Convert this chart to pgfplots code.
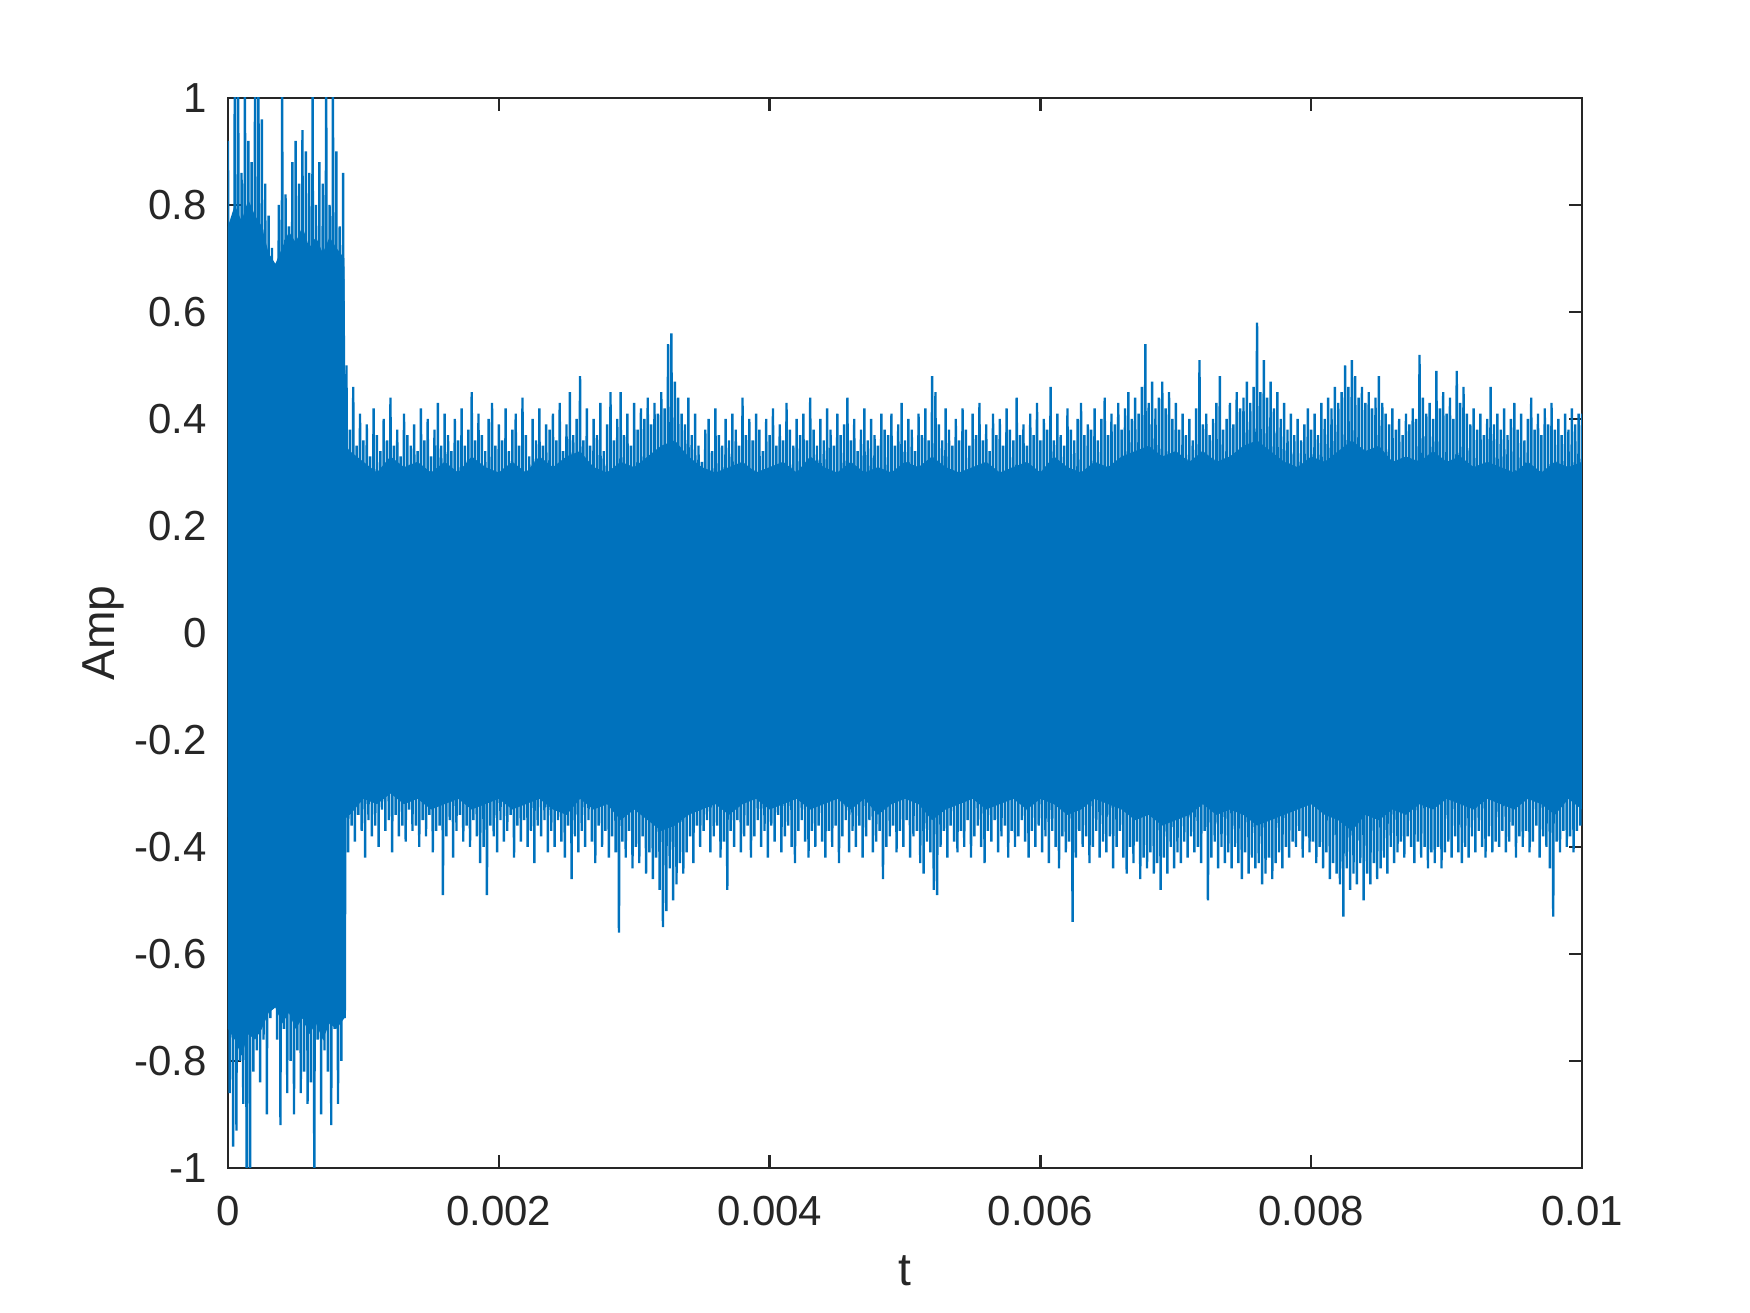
\documentclass[border=0pt]{standalone}
\usepackage{pgfplots}
\pgfplotsset{compat=1.18}
\usepackage{pgfplotstable}
\usepackage{fontspec}
\setmainfont{Liberation Sans}
\definecolor{mblue}{HTML}{0072BD}
\definecolor{axgray}{HTML}{262626}

\pgfplotstableread[row sep=\\]{
y\\
0.92\\ -0.86\\ 0.74\\ -0.96\\ 1.05\\ -0.93\\ 1.1\\ -0.80\\ 0.86\\ -0.88\\
1.1\\ -1.1\\ 0.92\\ -1.1\\ 0.88\\ -0.82\\ 1.1\\ -0.78\\ 1.05\\ -0.84\\
0.96\\ -0.76\\ 0.84\\ -0.90\\ 0.78\\ -0.72\\ 0.72\\ -0.70\\ 0.66\\ -0.76\\
0.80\\ -0.92\\ 1.05\\ -0.74\\ 0.82\\ -0.86\\ 0.76\\ -0.80\\ 0.88\\ -0.90\\
0.92\\ -0.78\\ 0.84\\ -0.86\\ 0.94\\ -0.82\\ 0.90\\ -0.88\\ 0.86\\ -0.84\\
1.05\\ -1.08\\ 0.80\\ -0.76\\ 0.88\\ -0.90\\ 0.84\\ -0.78\\ 1.1\\ -0.82\\
0.80\\ -0.92\\ 1.05\\ -0.74\\ 0.90\\ -0.88\\ 0.76\\ -0.80\\ 0.86\\ -0.72\\
0.50\\ -0.41\\ 0.38\\ -0.36\\ 0.46\\ -0.39\\ 0.35\\ -0.34\\ 0.41\\ -0.37\\ 0.36\\ -0.42\\ 0.39\\ -0.35\\ 0.33\\ -0.38\\ 0.42\\ -0.36\\ 0.37\\ -0.40\\
0.34\\ -0.33\\ 0.40\\ -0.37\\ 0.36\\ -0.35\\ 0.44\\ -0.41\\ 0.35\\ -0.34\\ 0.38\\ -0.38\\ 0.33\\ -0.36\\ 0.41\\ -0.39\\ 0.37\\ -0.33\\ 0.35\\ -0.37\\
0.39\\ -0.36\\ 0.34\\ -0.40\\ 0.42\\ -0.35\\ 0.36\\ -0.38\\ 0.40\\ -0.34\\ 0.33\\ -0.41\\ 0.38\\ -0.37\\ 0.43\\ -0.36\\ 0.35\\ -0.49\\ 0.41\\ -0.38\\
0.37\\ -0.35\\ 0.34\\ -0.42\\ 0.40\\ -0.37\\ 0.36\\ -0.34\\ 0.42\\ -0.39\\ 0.35\\ -0.36\\ 0.38\\ -0.40\\ 0.45\\ -0.35\\ 0.36\\ -0.38\\ 0.41\\ -0.43\\
0.37\\ -0.40\\ 0.34\\ -0.49\\ 0.40\\ -0.36\\ 0.43\\ -0.38\\ 0.35\\ -0.41\\ 0.39\\ -0.35\\ 0.36\\ -0.39\\ 0.42\\ -0.37\\ 0.34\\ -0.34\\ 0.38\\ -0.42\\
0.41\\ -0.36\\ 0.35\\ -0.39\\ 0.44\\ -0.35\\ 0.37\\ -0.40\\ 0.33\\ -0.37\\ 0.40\\ -0.43\\ 0.36\\ -0.36\\ 0.42\\ -0.38\\ 0.35\\ -0.35\\ 0.39\\ -0.41\\
0.38\\ -0.37\\ 0.41\\ -0.40\\ 0.36\\ -0.35\\ 0.43\\ -0.39\\ 0.34\\ -0.42\\ 0.39\\ -0.36\\ 0.45\\ -0.46\\ 0.37\\ -0.38\\ 0.40\\ -0.41\\ 0.48\\ -0.37\\
0.36\\ -0.40\\ 0.42\\ -0.35\\ 0.35\\ -0.39\\ 0.40\\ -0.43\\ 0.37\\ -0.36\\ 0.43\\ -0.40\\ 0.34\\ -0.37\\ 0.39\\ -0.42\\ 0.45\\ -0.38\\ 0.36\\ -0.41\\
0.40\\ -0.56\\ 0.45\\ -0.39\\ 0.37\\ -0.42\\ 0.41\\ -0.37\\ 0.35\\ -0.44\\ 0.43\\ -0.40\\ 0.38\\ -0.43\\ 0.42\\ -0.38\\ 0.40\\ -0.45\\ 0.44\\ -0.41\\
0.39\\ -0.46\\ 0.43\\ -0.42\\ 0.41\\ -0.48\\ 0.45\\ -0.55\\ 0.42\\ -0.52\\ 0.54\\ -0.44\\ 0.56\\ -0.50\\ 0.47\\ -0.47\\ 0.44\\ -0.43\\ 0.41\\ -0.45\\
0.39\\ -0.41\\ 0.44\\ -0.38\\ 0.37\\ -0.43\\ 0.41\\ -0.36\\ 0.35\\ -0.40\\ 0.32\\ -0.37\\ 0.38\\ -0.35\\ 0.40\\ -0.41\\ 0.34\\ -0.38\\ 0.42\\ -0.36\\
0.37\\ -0.42\\ 0.35\\ -0.39\\ 0.40\\ -0.48\\ 0.36\\ -0.37\\ 0.41\\ -0.40\\ 0.38\\ -0.35\\ 0.35\\ -0.41\\ 0.44\\ -0.38\\ 0.37\\ -0.36\\ 0.40\\ -0.42\\
0.36\\ -0.38\\ 0.41\\ -0.35\\ 0.38\\ -0.40\\ 0.34\\ -0.37\\ 0.40\\ -0.42\\ 0.37\\ -0.36\\ 0.42\\ -0.39\\ 0.35\\ -0.34\\ 0.39\\ -0.41\\ 0.36\\ -0.38\\
0.43\\ -0.36\\ 0.38\\ -0.40\\ 0.35\\ -0.43\\ 0.40\\ -0.37\\ 0.37\\ -0.35\\ 0.41\\ -0.39\\ 0.36\\ -0.42\\ 0.44\\ -0.37\\ 0.38\\ -0.40\\ 0.35\\ -0.36\\
0.40\\ -0.39\\ 0.36\\ -0.42\\ 0.42\\ -0.37\\ 0.38\\ -0.40\\ 0.35\\ -0.36\\ 0.41\\ -0.43\\ 0.37\\ -0.38\\ 0.39\\ -0.35\\ 0.44\\ -0.41\\ 0.36\\ -0.37\\
0.40\\ -0.40\\ 0.34\\ -0.36\\ 0.38\\ -0.42\\ 0.42\\ -0.38\\ 0.36\\ -0.35\\ 0.40\\ -0.41\\ 0.37\\ -0.39\\ 0.35\\ -0.37\\ 0.41\\ -0.46\\ 0.38\\ -0.40\\
0.37\\ -0.38\\ 0.41\\ -0.36\\ 0.35\\ -0.41\\ 0.39\\ -0.37\\ 0.43\\ -0.40\\ 0.36\\ -0.35\\ 0.40\\ -0.42\\ 0.38\\ -0.38\\ 0.34\\ -0.37\\ 0.41\\ -0.43\\
0.37\\ -0.45\\ 0.42\\ -0.39\\ 0.36\\ -0.41\\ 0.48\\ -0.48\\ 0.45\\ -0.49\\ 0.39\\ -0.40\\ 0.36\\ -0.37\\ 0.42\\ -0.42\\ 0.38\\ -0.36\\ 0.35\\ -0.39\\
0.40\\ -0.41\\ 0.36\\ -0.37\\ 0.42\\ -0.40\\ 0.38\\ -0.35\\ 0.35\\ -0.42\\ 0.41\\ -0.38\\ 0.37\\ -0.36\\ 0.43\\ -0.40\\ 0.36\\ -0.43\\ 0.39\\ -0.37\\
0.34\\ -0.39\\ 0.41\\ -0.35\\ 0.37\\ -0.41\\ 0.40\\ -0.38\\ 0.35\\ -0.36\\ 0.42\\ -0.42\\ 0.38\\ -0.37\\ 0.36\\ -0.40\\ 0.44\\ -0.38\\ 0.37\\ -0.35\\
0.39\\ -0.39\\ 0.35\\ -0.42\\ 0.41\\ -0.37\\ 0.37\\ -0.40\\ 0.43\\ -0.36\\ 0.36\\ -0.41\\ 0.40\\ -0.38\\ 0.38\\ -0.43\\ 0.46\\ -0.37\\ 0.36\\ -0.40\\
0.41\\ -0.44\\ 0.37\\ -0.38\\ 0.35\\ -0.41\\ 0.42\\ -0.39\\ 0.38\\ -0.54\\ 0.36\\ -0.42\\ 0.40\\ -0.37\\ 0.43\\ -0.40\\ 0.37\\ -0.38\\ 0.39\\ -0.43\\
0.38\\ -0.40\\ 0.42\\ -0.37\\ 0.36\\ -0.42\\ 0.40\\ -0.39\\ 0.44\\ -0.41\\ 0.37\\ -0.38\\ 0.41\\ -0.44\\ 0.39\\ -0.40\\ 0.43\\ -0.37\\ 0.38\\ -0.42\\
0.42\\ -0.45\\ 0.45\\ -0.40\\ 0.40\\ -0.43\\ 0.44\\ -0.39\\ 0.41\\ -0.46\\ 0.46\\ -0.42\\ 0.54\\ -0.44\\ 0.43\\ -0.41\\ 0.47\\ -0.45\\ 0.42\\ -0.43\\
0.44\\ -0.48\\ 0.47\\ -0.42\\ 0.42\\ -0.45\\ 0.45\\ -0.40\\ 0.40\\ -0.44\\ 0.43\\ -0.41\\ 0.38\\ -0.43\\ 0.41\\ -0.39\\ 0.37\\ -0.42\\ 0.40\\ -0.38\\
0.36\\ -0.41\\ 0.42\\ -0.40\\ 0.51\\ -0.43\\ 0.39\\ -0.37\\ 0.41\\ -0.50\\ 0.37\\ -0.42\\ 0.40\\ -0.39\\ 0.43\\ -0.44\\ 0.48\\ -0.40\\ 0.38\\ -0.43\\
0.40\\ -0.41\\ 0.43\\ -0.44\\ 0.39\\ -0.40\\ 0.45\\ -0.43\\ 0.42\\ -0.46\\ 0.44\\ -0.41\\ 0.47\\ -0.45\\ 0.43\\ -0.42\\ 0.46\\ -0.44\\ 0.58\\ -0.43\\
0.45\\ -0.47\\ 0.51\\ -0.45\\ 0.44\\ -0.42\\ 0.47\\ -0.46\\ 0.42\\ -0.43\\ 0.45\\ -0.41\\ 0.40\\ -0.44\\ 0.43\\ -0.40\\ 0.38\\ -0.42\\ 0.41\\ -0.39\\
0.37\\ -0.40\\ 0.40\\ -0.37\\ 0.36\\ -0.42\\ 0.39\\ -0.38\\ 0.42\\ -0.41\\ 0.38\\ -0.39\\ 0.41\\ -0.43\\ 0.37\\ -0.40\\ 0.43\\ -0.44\\ 0.40\\ -0.41\\
0.44\\ -0.46\\ 0.42\\ -0.43\\ 0.46\\ -0.45\\ 0.43\\ -0.47\\ 0.45\\ -0.53\\ 0.50\\ -0.44\\ 0.46\\ -0.48\\ 0.51\\ -0.45\\ 0.48\\ -0.47\\ 0.44\\ -0.43\\
0.46\\ -0.50\\ 0.43\\ -0.45\\ 0.45\\ -0.47\\ 0.42\\ -0.43\\ 0.44\\ -0.46\\ 0.48\\ -0.44\\ 0.43\\ -0.42\\ 0.41\\ -0.45\\ 0.39\\ -0.40\\ 0.42\\ -0.43\\
0.38\\ -0.41\\ 0.40\\ -0.39\\ 0.37\\ -0.42\\ 0.41\\ -0.38\\ 0.39\\ -0.40\\ 0.42\\ -0.43\\ 0.40\\ -0.39\\ 0.52\\ -0.42\\ 0.44\\ -0.40\\ 0.41\\ -0.44\\
0.43\\ -0.41\\ 0.40\\ -0.43\\ 0.49\\ -0.40\\ 0.42\\ -0.44\\ 0.45\\ -0.41\\ 0.41\\ -0.39\\ 0.44\\ -0.42\\ 0.40\\ -0.38\\ 0.49\\ -0.41\\ 0.43\\ -0.43\\
0.46\\ -0.40\\ 0.41\\ -0.42\\ 0.39\\ -0.38\\ 0.42\\ -0.41\\ 0.38\\ -0.37\\ 0.41\\ -0.40\\ 0.37\\ -0.42\\ 0.40\\ -0.38\\ 0.46\\ -0.41\\ 0.39\\ -0.39\\
0.41\\ -0.40\\ 0.38\\ -0.37\\ 0.42\\ -0.41\\ 0.37\\ -0.39\\ 0.40\\ -0.36\\ 0.43\\ -0.42\\ 0.38\\ -0.38\\ 0.41\\ -0.40\\ 0.36\\ -0.37\\ 0.40\\ -0.41\\
0.44\\ -0.39\\ 0.38\\ -0.36\\ 0.41\\ -0.42\\ 0.37\\ -0.38\\ 0.42\\ -0.40\\ 0.39\\ -0.44\\ 0.43\\ -0.53\\ 0.38\\ -0.39\\ 0.40\\ -0.41\\ 0.37\\ -0.37\\
0.41\\ -0.40\\ 0.38\\ -0.38\\ 0.42\\ -0.41\\ 0.39\\ -0.37\\ 0.41\\ -0.36\\
0.41\\
}\sig

\begin{document}
\begin{tikzpicture}
\path[use as bounding box] (-57pt,-36.25pt) rectangle (380.5pt,292pt);
\begin{axis}[
  at={(0pt,0pt)}, anchor=south west,
  scale only axis, width=338.5pt, height=267.5pt,
  xmin=0, xmax=0.01, ymin=-1, ymax=1,
  scaled x ticks=false, scaled y ticks=false,
  xtick={0,0.002,0.004,0.006,0.008,0.01},
  xticklabels={0,0.002,0.004,0.006,0.008,0.01},
  ytick={-1,-0.8,-0.6,-0.4,-0.2,0,0.2,0.4,0.6,0.8,1},
  yticklabels={-1,-0.8,-0.6,-0.4,-0.2,0,0.2,0.4,0.6,0.8,1},
  tick align=inside, tick pos=both,
  xticklabel pos=lower, yticklabel pos=left,
  major tick length=3.25pt,
  axis line style={axgray, line width=0.6pt},
  every tick/.style={axgray, line width=0.6pt},
  tick label style={font=\fontsize{10.5}{12.6}\selectfont, text=axgray},
  xticklabel style={yshift=-3.5pt},
  yticklabel style={xshift=-1.75pt},
  xlabel={t}, ylabel={Amp},
  label style={font=\fontsize{11.55}{13.9}\selectfont, text=axgray},
  xlabel style={at={(axis description cs:0.5,-0.1103)}, anchor=base},
  ylabel style={at={(axis description cs:-0.0835,0.5)}, anchor=base},
]
% dense core of the signal (upper envelope left to right, lower envelope right to left)
\addplot[fill=mblue, draw=none] coordinates {
  (0,0.76) (0.00005,0.80) (0.0001,0.77) (0.00015,0.81) (0.0002,0.78) (0.00025,0.76)
  (0.0003,0.71) (0.00035,0.69) (0.0004,0.72) (0.00045,0.75) (0.0005,0.73) (0.00055,0.76)
  (0.0006,0.72) (0.00065,0.74) (0.0007,0.71) (0.00075,0.74) (0.0008,0.72) (0.00086,0.70)
  (0.00087,0.35) (0.0009,0.34)
  (0.0010,0.32) (0.0011,0.30) (0.0012,0.33) (0.0013,0.31) (0.0014,0.32) (0.0015,0.30)
  (0.0016,0.32) (0.0017,0.30) (0.0018,0.33) (0.0019,0.31) (0.0020,0.30) (0.0021,0.32)
  (0.0022,0.30) (0.0023,0.33) (0.0024,0.31) (0.0025,0.33) (0.0026,0.34) (0.0027,0.31)
  (0.0028,0.30) (0.0029,0.32) (0.0030,0.31) (0.0031,0.33) (0.0032,0.35) (0.0033,0.36)
  (0.0034,0.33) (0.0035,0.31) (0.0036,0.30) (0.0037,0.31) (0.0038,0.32) (0.0039,0.30)
  (0.0040,0.31) (0.0041,0.32) (0.0042,0.30) (0.0043,0.33) (0.0044,0.31) (0.0045,0.30)
  (0.0046,0.32) (0.0047,0.30) (0.0048,0.31) (0.0049,0.30) (0.0050,0.32) (0.0051,0.31)
  (0.0052,0.33) (0.0053,0.31) (0.0054,0.30) (0.0055,0.31) (0.0056,0.32) (0.0057,0.30)
  (0.0058,0.31) (0.0059,0.32) (0.0060,0.30) (0.0061,0.33) (0.0062,0.31) (0.0063,0.30)
  (0.0064,0.32) (0.0065,0.31) (0.0066,0.33) (0.0067,0.34) (0.0068,0.35) (0.0069,0.33)
  (0.0070,0.34) (0.0071,0.32) (0.0072,0.34) (0.0073,0.32) (0.0074,0.33) (0.0075,0.35)
  (0.0076,0.36) (0.0077,0.34) (0.0078,0.32) (0.0079,0.31) (0.0080,0.33) (0.0081,0.32)
  (0.0082,0.34) (0.0083,0.36) (0.0084,0.34) (0.0085,0.35) (0.0086,0.32) (0.0087,0.33)
  (0.0088,0.32) (0.0089,0.34) (0.0090,0.32) (0.0091,0.33) (0.0092,0.31) (0.0093,0.32)
  (0.0094,0.31) (0.0095,0.30) (0.0096,0.32) (0.0097,0.30) (0.0098,0.32) (0.0099,0.31)
  (0.0100,0.32)
  (0.0100,-0.33) (0.0099,-0.31) (0.0098,-0.34) (0.0097,-0.32) (0.0096,-0.31) (0.0095,-0.33)
  (0.0094,-0.32) (0.0093,-0.31) (0.0092,-0.33) (0.0091,-0.32) (0.0090,-0.31) (0.0089,-0.33)
  (0.0088,-0.32) (0.0087,-0.34) (0.0086,-0.33) (0.0085,-0.35) (0.0084,-0.34) (0.0083,-0.37)
  (0.0082,-0.35) (0.0081,-0.34) (0.0080,-0.32) (0.0079,-0.33) (0.0078,-0.34) (0.0077,-0.35)
  (0.0076,-0.36) (0.0075,-0.34) (0.0074,-0.33) (0.0073,-0.34) (0.0072,-0.32) (0.0071,-0.34)
  (0.0070,-0.35) (0.0069,-0.36) (0.0068,-0.34) (0.0067,-0.35) (0.0066,-0.33) (0.0065,-0.32)
  (0.0064,-0.31) (0.0063,-0.33) (0.0062,-0.34) (0.0061,-0.32) (0.0060,-0.31) (0.0059,-0.33)
  (0.0058,-0.31) (0.0057,-0.32) (0.0056,-0.33) (0.0055,-0.31) (0.0054,-0.32) (0.0053,-0.33)
  (0.0052,-0.35) (0.0051,-0.32) (0.0050,-0.31) (0.0049,-0.32) (0.0048,-0.34) (0.0047,-0.31)
  (0.0046,-0.33) (0.0045,-0.31) (0.0044,-0.32) (0.0043,-0.33) (0.0042,-0.31) (0.0041,-0.32)
  (0.0040,-0.33) (0.0039,-0.31) (0.0038,-0.32) (0.0037,-0.34) (0.0036,-0.32) (0.0035,-0.33)
  (0.0034,-0.34) (0.0033,-0.36) (0.0032,-0.37) (0.0031,-0.35) (0.0030,-0.33) (0.0029,-0.35)
  (0.0028,-0.32) (0.0027,-0.33) (0.0026,-0.31) (0.0025,-0.34) (0.0024,-0.33) (0.0023,-0.31)
  (0.0022,-0.32) (0.0021,-0.33) (0.0020,-0.31) (0.0019,-0.32) (0.0018,-0.33) (0.0017,-0.31)
  (0.0016,-0.32) (0.0015,-0.33) (0.0014,-0.31) (0.0013,-0.32) (0.0012,-0.30) (0.0011,-0.32)
  (0.0010,-0.31) (0.0009,-0.34) (0.00087,-0.34)
  (0.00086,-0.72) (0.0008,-0.74) (0.00075,-0.73) (0.0007,-0.76) (0.00065,-0.73) (0.0006,-0.75)
  (0.00055,-0.72) (0.0005,-0.74) (0.00045,-0.71) (0.0004,-0.73) (0.00035,-0.70) (0.0003,-0.71)
  (0.00025,-0.74) (0.0002,-0.76) (0.00015,-0.75) (0.0001,-0.79) (0.00005,-0.76) (0,-0.74)
} -- cycle;
\addplot[mblue, line width=0.6pt] table[x expr=\coordindex*0.0000125, y=y] {\sig};
\end{axis}
\end{tikzpicture}
\end{document}
